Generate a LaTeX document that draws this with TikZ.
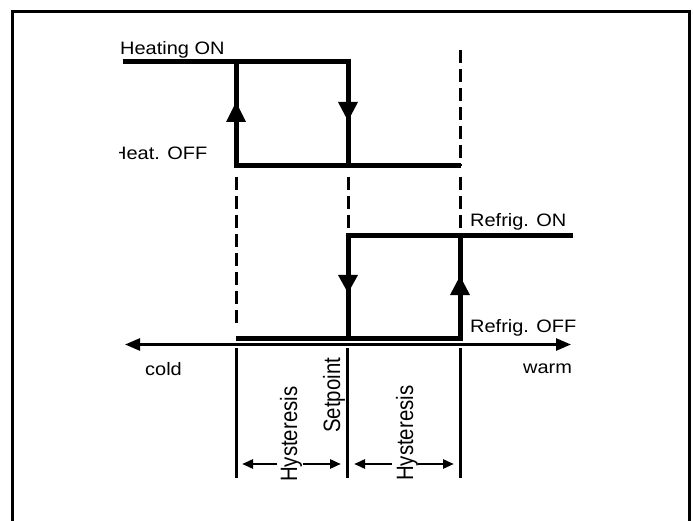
\documentclass[tikz,border=0pt]{standalone}
\usepackage{fontspec}
\usepackage{graphicx}
\setmainfont{Liberation Sans}
\usetikzlibrary{arrows.meta}
\begin{document}
\begin{tikzpicture}[x=1pt,y=-1pt,
  thickline/.style={line width=5pt, line join=miter},
  dashline/.style={line width=3pt, dash pattern=on 13pt off 6pt},
  guide/.style={line width=3pt},
  frameline/.style={line width=2.8pt},
  axisline/.style={line width=2.5pt,{Triangle[length=15pt,width=12pt]}-{Triangle[length=15pt,width=12pt]}},
  dimline/.style={line width=2.5pt,-{Triangle[length=11pt,width=9pt]}},
  lab/.style={inner sep=0pt, anchor=base west, font=\fontsize{18}{20}\selectfont},
  vlab/.style={inner sep=0pt, anchor=base west, rotate=90, font=\fontsize{20.4}{22}\selectfont},
  tri/.style={fill=black}]
\useasboundingbox (0,0) rectangle (693,521);
% frame
\draw[frameline] (12.5,523) -- (12.5,11.3) -- (689.5,11.3) -- (689.5,523);
% key coordinates
\coordinate (hs) at (123,62);
\coordinate (h1t) at (236,62);
\coordinate (h2t) at (348,62);
\coordinate (h1b) at (236,166);
\coordinate (h2b) at (348,166);
\coordinate (h3b) at (461,166);
\coordinate (r1t) at (348,236);
\coordinate (r2t) at (460,236);
\coordinate (re) at (573,236);
\coordinate (r0b) at (236,338);
\coordinate (r1b) at (348,338);
\coordinate (r2b) at (460,338);
\coordinate (axl) at (125,344.5);
\coordinate (axr) at (571,344.5);
% heating curve
\draw[thickline] (hs) -- (h2t) -- (h2b);
\draw[thickline] (h1t) -- (h1b) -- (h3b);
% refrigeration curve
\draw[thickline] (re) -- (r1t) -- (r1b);
\draw[thickline] (r2t) -- (r2b) -- (r0b);
% arrow triangles
\fill[tri,shift={(236,102)}] (-10,20) -- (10,20) -- (0,0) -- cycle;
\fill[tri,shift={(348,121)}] (-10,-19) -- (10,-19) -- (0,0) -- cycle;
\fill[tri,shift={(348,293)}] (-10,-18) -- (10,-18) -- (0,0) -- cycle;
\fill[tri,shift={(460,276)}] (-10,19) -- (10,19) -- (0,0) -- cycle;
% dashed guides
\coordinate (d3top) at (460,50);
\draw[dashline] (d3top) -- (460,166);
\coordinate (d1a) at (236,177); \coordinate (d1b) at (236,326);
\coordinate (d2a) at (348,177); \coordinate (d2b) at (348,231);
\coordinate (d3a) at (460,177); \coordinate (d3b) at (460,231);
\draw[dashline] (d1a) -- (d1b);
\draw[dashline] (d2a) -- (d2b);
\draw[dashline] (d3a) -- (d3b);
% axis
\draw[axisline] (axl) -- (axr);
% solid guides below axis
\coordinate (g1a) at (236,348); \coordinate (g1b) at (236,478);
\coordinate (g2a) at (347,348); \coordinate (g2b) at (347,478);
\coordinate (g3a) at (460,348); \coordinate (g3b) at (460,478);
\draw[guide] (g1a) -- (g1b);
\draw[guide] (g2a) -- (g2b);
\draw[guide] (g3a) -- (g3b);
% dimension arrows
\coordinate (a1s) at (277,464); \coordinate (a1e) at (242,464);
\coordinate (a2s) at (303,464); \coordinate (a2e) at (341,464);
\coordinate (a3s) at (392,464); \coordinate (a3e) at (354,464);
\coordinate (a4s) at (418,464); \coordinate (a4e) at (454,464);
\draw[dimline] (a1s) -- (a1e);
\draw[dimline] (a2s) -- (a2e);
\draw[dimline] (a3s) -- (a3e);
\draw[dimline] (a4s) -- (a4e);
% labels
\node[lab] (heaton) at (120,55) {\scalebox{1.11}[1]{Heating ON}};
\begin{scope}
\clip (119,130) rectangle (230,170);
\node[lab] (heatoff) at (112,160) {\scalebox{1.11}[1]{Heat. OFF}};
\end{scope}
\node[lab] (refon) at (470,227) {\scalebox{1.11}[1]{Refrig. ON}};
\node[lab] (refoff) at (470,332) {\scalebox{1.11}[1]{Refrig. OFF}};
\node[lab] (cold) at (145,375) {\scalebox{1.11}[1]{cold}};
\node[lab] (warm) at (523,373) {\scalebox{1.11}[1]{warm}};
\node[vlab] (hyst1) at (297,482) {\scalebox{1}[1.16]{Hysteresis}};
\node[vlab] (setp) at (340,433) {\scalebox{1}[1.16]{Setpoint}};
\node[vlab] (hyst2) at (413,481) {\scalebox{1}[1.16]{Hysteresis}};
\end{tikzpicture}
\end{document}
